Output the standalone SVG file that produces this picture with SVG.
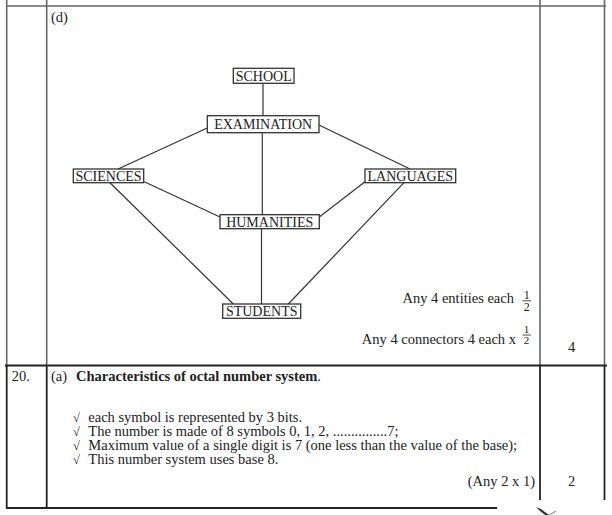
<svg xmlns="http://www.w3.org/2000/svg" width="612" height="515" viewBox="0 0 612 515">
<style>
text{font-family:"Liberation Serif","Times New Roman",serif;fill:#222}
.lbl{font-size:14px;text-anchor:middle}
.body{font-size:14.5px}
.chk{font-size:12.5px}
.frac{font-size:12px;text-anchor:middle}
.box{fill:#fff;stroke:#333;stroke-width:1.3}
.conn line{stroke:#333;stroke-width:1.2}
.grid1{stroke:#666;stroke-width:1.6;fill:none}
.grid2{stroke:#222;stroke-width:1.8;fill:none}
</style>
<rect width="612" height="515" fill="#fff"/>
<g id="table">
<line class="grid1" x1="6" y1="6" x2="606" y2="6"/>
<line class="grid1" x1="6.7" y1="0" x2="6.7" y2="365"/>
<line class="grid1" x1="46.7" y1="0" x2="46.7" y2="365"/>
<line class="grid1" x1="540" y1="0" x2="540" y2="365"/>
<line class="grid1" x1="604.5" y1="0" x2="604.5" y2="365"/>
<line class="grid2" x1="5" y1="365.5" x2="607" y2="365.5"/>
<line class="grid2" x1="6.7" y1="365" x2="6.7" y2="508"/>
<line class="grid2" x1="46.7" y1="365" x2="46.7" y2="508"/>
<line class="grid2" x1="540" y1="365" x2="540" y2="500"/>
<line class="grid2" x1="604.5" y1="365" x2="604.5" y2="500"/>
<line class="grid2" x1="6" y1="508" x2="497" y2="508"/>
<path d="M536 507 L541 509 L549 515 L545 515 L540 511 Z" fill="#333"/>
<path d="M549 515 L556 511" stroke="#999" stroke-width="1.2"/>
</g>
<g class="conn" id="connectors">
<line x1="263" y1="83.3" x2="263" y2="115.7"/>
<line x1="207.3" y1="128" x2="118" y2="169"/>
<line x1="319" y1="125" x2="410" y2="169"/>
<line x1="262.3" y1="132.7" x2="262.3" y2="214.7"/>
<line x1="261.5" y1="228.7" x2="261.5" y2="304"/>
<line x1="144.3" y1="181.7" x2="220" y2="217"/>
<line x1="365" y1="181.7" x2="319.3" y2="217"/>
<line x1="110" y1="182.7" x2="233.3" y2="304"/>
<line x1="404" y1="182.7" x2="288.3" y2="304"/>
</g>
<g id="node-school"><rect class="box" x="233.3" y="68.3" width="60.7" height="15"/><text class="lbl" x="263.7" y="80.5">SCHOOL</text></g>
<g id="node-examination"><rect class="box" x="207.3" y="115.7" width="111.7" height="17"/><text class="lbl" x="263.2" y="128.8">EXAMINATION</text></g>
<g id="node-sciences"><rect class="box" x="73.3" y="169" width="70.4" height="13.7"/><text class="lbl" x="108.5" y="180.5">SCIENCES</text></g>
<g id="node-languages"><rect class="box" x="365" y="169" width="90.7" height="13.7"/><text class="lbl" x="410.3" y="180.5">LANGUAGES</text></g>
<g id="node-humanities"><rect class="box" x="220" y="214.7" width="99.3" height="14"/><text class="lbl" x="269.7" y="226.5">HUMANITIES</text></g>
<g id="node-students"><rect class="box" x="222.7" y="304" width="78" height="14.3"/><text class="lbl" x="261.7" y="316">STUDENTS</text></g>
<g id="texts">
<text class="body" x="51" y="21.5">(d)</text>
<text class="body" x="514" y="303.3" text-anchor="end">Any 4 entities each</text>
<text class="frac" x="526.7" y="298.5">1</text>
<line x1="522.5" y1="300.8" x2="531" y2="300.8" stroke="#222" stroke-width="0.8"/>
<text class="frac" x="526.7" y="311">2</text>
<text class="body" x="516" y="344" text-anchor="end">Any 4 connectors 4 each x</text>
<text class="frac" x="526.5" y="333" style="font-size:11px">1</text>
<line x1="522.5" y1="335" x2="531" y2="335" stroke="#222" stroke-width="0.8"/>
<text class="frac" x="526.5" y="344.3" style="font-size:11px">2</text>
<text class="body" x="571.7" y="352.3" text-anchor="middle">4</text>
<text class="body" x="11.7" y="380.5">20.</text>
<text class="body" x="51" y="380.5">(a) <tspan x="76" font-weight="bold">Characteristics of octal number system</tspan>.</text>
<text class="chk" x="73" y="422">√</text><text class="body" x="88.3" y="422">each symbol is represented by 3 bits.</text>
<text class="chk" x="73" y="436">√</text><text class="body" x="88.3" y="436">The number is made of 8 symbols 0, 1, 2, ...............7;</text>
<text class="chk" x="73" y="450">√</text><text class="body" x="88.3" y="450">Maximum value of a single digit is 7 (one less than the value of the base);</text>
<text class="chk" x="73" y="464">√</text><text class="body" x="88.3" y="464">This number system uses base 8.</text>
<text class="body" x="535" y="486" text-anchor="end">(Any 2 x 1)</text>
<text class="body" x="571.7" y="486" text-anchor="middle">2</text>
</g>
</svg>
